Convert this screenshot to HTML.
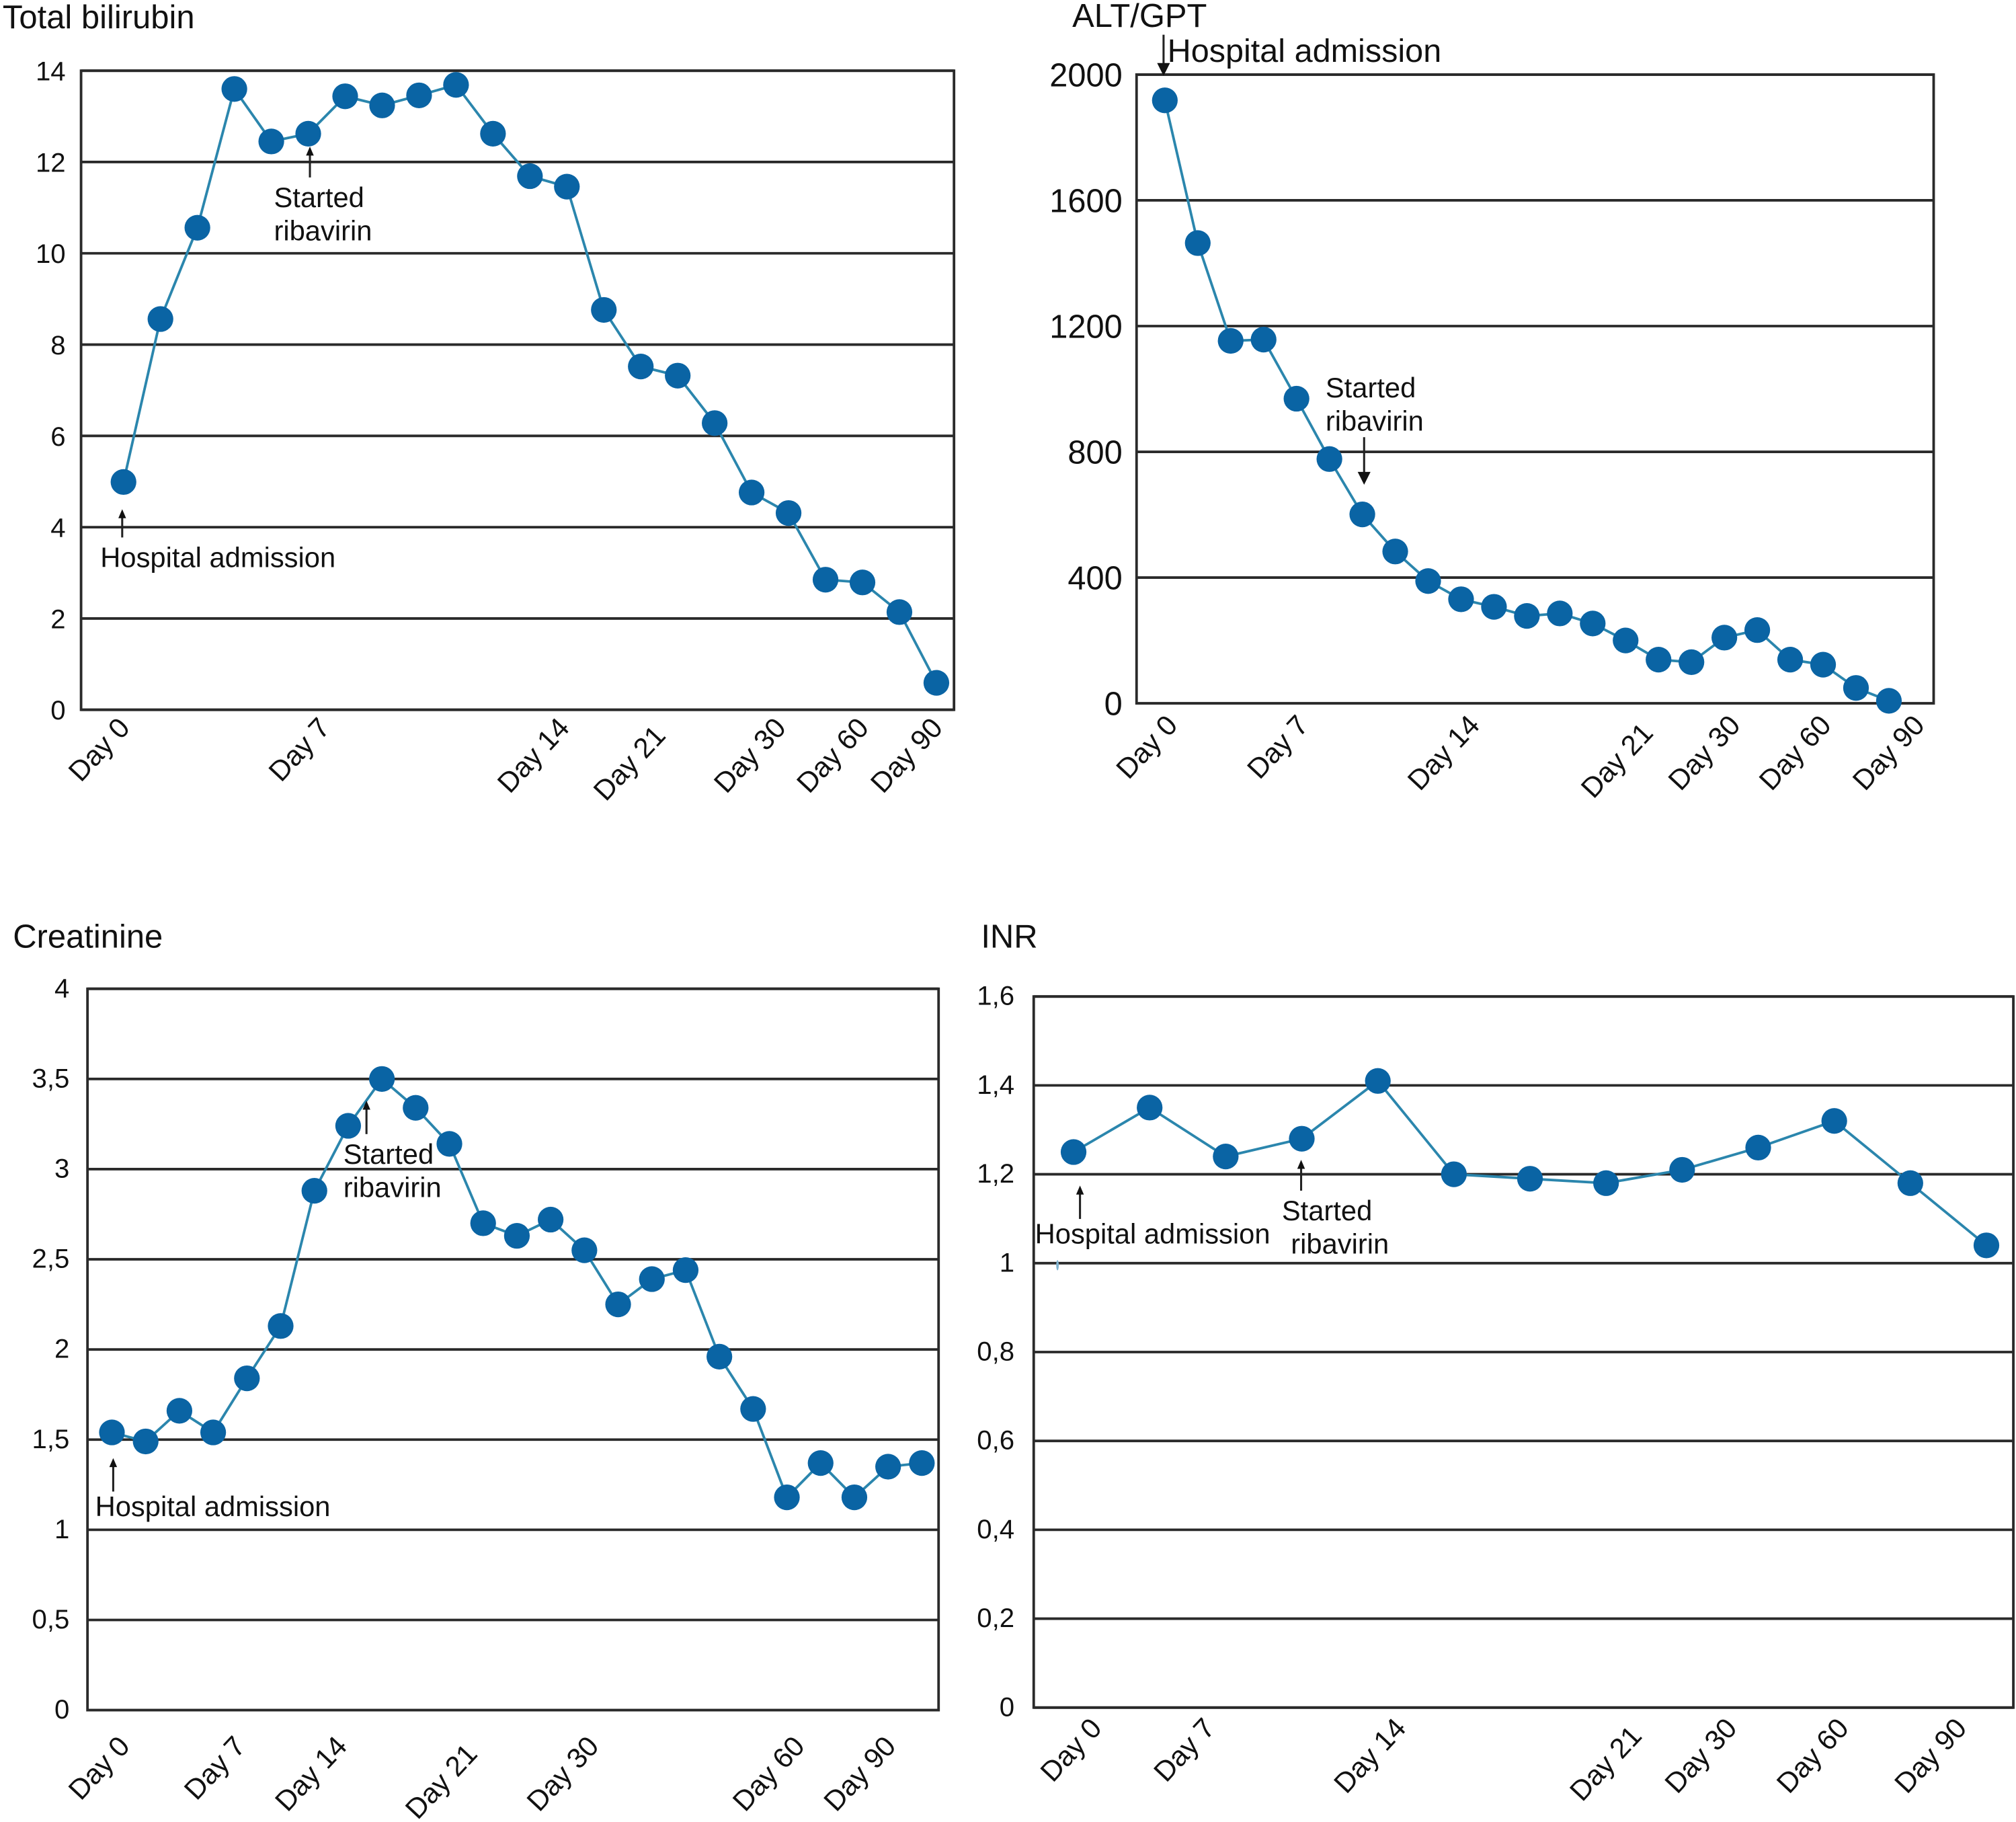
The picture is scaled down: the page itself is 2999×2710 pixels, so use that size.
<!DOCTYPE html>
<html lang="en">
<head>
<meta charset="utf-8">
<title>Laboratory trends: bilirubin, ALT/GPT, creatinine, INR</title>
<style>
html,body{margin:0;padding:0;background:#fff;}
svg{display:block;width:2999px;height:2710px;}
text{font-family:"Liberation Sans",sans-serif;fill:#111;}
.title{font-size:25.6px;}
.note{font-size:21.8px;}
.arrow{stroke:#222;stroke-width:1.6;fill:none;}
.head{fill:#111;stroke:none;}
</style>
</head>
<body>
<svg id="chart" viewBox="0 0 1568 1417" xmlns="http://www.w3.org/2000/svg">
  <rect x="0" y="0" width="1568" height="1417" fill="#fff"/>
  <g id="panels"></g>

  <text class="title" x="2" y="22">Total bilirubin</text>
  <text class="title" x="834" y="21">ALT/GPT</text>
  <text class="title" x="10" y="737">Creatinine</text>
  <text class="title" x="763" y="737">INR</text>

  <g>
    <path class="arrow" d="M95 418V402"/>
    <path class="head" d="M95 396l-3 7h6z"/>
    <text class="note" x="78" y="441">Hospital admission</text>
    <path class="arrow" d="M241 138V120"/>
    <path class="head" d="M241 114l-3 7h6z"/>
    <text class="note" x="213" y="161">Started</text>
    <text class="note" x="213" y="187">ribavirin</text>
  </g>

  <g>
    <path class="arrow" d="M905 27V50"/>
    <path class="head" d="M905 59l-5-10h10z"/>
    <text class="note" style="font-size:25.4px" x="908" y="48">Hospital admission</text>
    <text class="note" x="1031" y="309">Started</text>
    <text class="note" x="1031" y="335">ribavirin</text>
    <path class="arrow" d="M1061 340V368"/>
    <path class="head" d="M1061 377l-5-10h10z"/>
  </g>

  <g>
    <path class="arrow" d="M88 1160V1140"/>
    <path class="head" d="M88 1134l-3 7h6z"/>
    <text class="note" x="74" y="1179">Hospital admission</text>
    <path class="arrow" d="M285 882V862"/>
    <path class="head" d="M285 856l-3 7h6z"/>
    <text class="note" x="267" y="905">Started</text>
    <text class="note" x="267" y="931">ribavirin</text>
  </g>

  <g>
    <path class="arrow" d="M840 948V928"/>
    <path class="head" d="M840 922l-3 7h6z"/>
    <text class="note" x="805" y="967">Hospital admission</text>
    <path class="arrow" d="M1012 926V908"/>
    <path class="head" d="M1012 902l-3 7h6z"/>
    <text class="note" x="997" y="949">Started</text>
    <text class="note" x="1004" y="975">ribavirin</text>
    <ellipse cx="822.5" cy="984" rx="1" ry="4" fill="#7fb3d0"/>
  </g>
</svg>

<script>
// ---- Data ----
const bilirubinValues = [4.99,8.56,10.56,13.6,12.45,12.62,13.44,13.24,13.46,13.69,12.62,11.69,11.46,8.76,7.52,7.32,6.28,4.76,4.31,2.85,2.79,2.14,0.59];
const bilirubinYTicks = [0,2,4,6,8,10,12,14];
const bilirubinYLabels = ["0","2","4","6","8","10","12","14"];
const bilirubinDayLabels = ["Day 0","Day 7","Day 14","Day 21","Day 30","Day 60","Day 90"];
const bilirubinDayIndex = [0,5.42,11.9,14.5,17.76,20,22];

const altValues = [1918,1464,1153,1157,969,777,601,483,389,331,307,278,286,254,200,139,131,209,233,139,123,49,8];
const altYTicks = [0,400,800,1200,1600,2000];
const altYLabels = ["0","400","800","1200","1600","2000"];
const altDayLabels = ["Day 0","Day 7","Day 14","Day 21","Day 30","Day 60","Day 90"];
const altDayIndex = [0,3.98,9.18,14.45,17.1,19.86,22.7];

const creatinineValues = [1.54,1.49,1.66,1.54,1.84,2.13,2.88,3.24,3.5,3.34,3.14,2.7,2.63,2.72,2.55,2.25,2.39,2.44,1.96,1.67,1.18,1.37,1.18,1.35,1.37];
const creatinineYTicks = [0,0.5,1,1.5,2,2.5,3,3.5,4];
const creatinineYLabels = ["0","0,5","1","1,5","2","2,5","3","3,5","4"];
const creatinineDayLabels = ["Day 0","Day 7","Day 14","Day 21","Day 30","Day 60","Day 90"];
const creatinineDayIndex = [0,3.43,6.44,10.3,13.9,20,22.7];

const inrValues = [1.25,1.35,1.24,1.28,1.41,1.2,1.19,1.18,1.21,1.26,1.32,1.18,1.04];
const inrYTicks = [0,0.2,0.4,0.6,0.8,1,1.2,1.4,1.6];
const inrYLabels = ["0","0,2","0,4","0,6","0,8","1","1,2","1,4","1,6"];
const inrDayLabels = ["Day 0","Day 7","Day 14","Day 21","Day 30","Day 60","Day 90"];
const inrDayIndex = [0,1.49,4,7.1,8.35,9.82,11.37];

// ---- Layout (drawing frames, separate from the data) ----
const NS = "http://www.w3.org/2000/svg";
const panelsRoot = document.getElementById("panels");

function make(tag, parent) {
  const el = document.createElementNS(NS, tag);
  parent.appendChild(el);
  return el;
}

function drawPanel(p) {
  const yScale = v => p.bottom - (v / p.yMax) * (p.bottom - p.top);
  const xScale = i => p.firstX + i * p.stepX;

  const g = make("g", panelsRoot);
  
  

  p.yTicks.forEach((tick, i) => {
    const line = make("line", g);
    
    
    line.setAttribute("x1", p.left);
    line.setAttribute("x2", p.right);
    line.setAttribute("y1", yScale(tick));
    line.setAttribute("y2", yScale(tick));
    line.setAttribute("stroke", "#2a2a2a");
    line.setAttribute("stroke-width", "2");

    const label = make("text", g);
    
    
    label.setAttribute("x", p.tickRight);
    label.setAttribute("y", yScale(tick) + p.tickSize * 0.36 + p.tickShift);
    label.setAttribute("text-anchor", "end");
    label.setAttribute("font-size", p.tickSize);
    label.textContent = p.yLabels[i];
  });

  const frame = make("rect", g);
  
  
  frame.setAttribute("x", p.left);
  frame.setAttribute("y", p.top);
  frame.setAttribute("width", p.right - p.left);
  frame.setAttribute("height", p.bottom - p.top);
  frame.setAttribute("fill", "none");
  frame.setAttribute("stroke", "#2a2a2a");
  frame.setAttribute("stroke-width", "2");

  const series = make("polyline", g);
  
  
  series.setAttribute("points", p.values.map((v, i) => xScale(i) + "," + yScale(v)).join(" "));
  series.setAttribute("fill", "none");
  series.setAttribute("stroke", "#2b86ad");
  series.setAttribute("stroke-width", "2");

  p.values.forEach((v, i) => {
    const dot = make("circle", g);
    
    
    dot.setAttribute("cx", xScale(i));
    dot.setAttribute("cy", yScale(v));
    dot.setAttribute("r", "10");
    dot.setAttribute("fill", "#0a64a4");
  });

  p.dayLabels.forEach((name, i) => {
    const endX = xScale(p.dayIndex[i]) + p.dayOffsetX;
    const label = make("text", g);
    
    
    label.setAttribute("text-anchor", "end");
    label.setAttribute("font-size", p.daySize);
    label.setAttribute("transform", "translate(" + endX + "," + (p.dayY + (i === 3 ? p.day21Drop : 0)) + ") rotate(-47)");
    label.textContent = name;
  });
}

drawPanel({key:"bilirubin", values:bilirubinValues, yTicks:bilirubinYTicks, yLabels:bilirubinYLabels, dayLabels:bilirubinDayLabels, dayIndex:bilirubinDayIndex,
  yMax:14, left:63, right:742, top:55, bottom:552, firstX:96, stepX:28.74, tickRight:51, tickSize:21, tickShift:0, dayOffsetX:6, dayY:567, day21Drop:6, daySize:22});
drawPanel({key:"alt", values:altValues, yTicks:altYTicks, yLabels:altYLabels, dayLabels:altDayLabels, dayIndex:altDayIndex,
  yMax:2000, left:884, right:1504, top:58, bottom:547, firstX:906, stepX:25.6, tickRight:873, tickSize:25.5, tickShift:0, dayOffsetX:11, dayY:565, day21Drop:6, daySize:22});
drawPanel({key:"creatinine", values:creatinineValues, yTicks:creatinineYTicks, yLabels:creatinineYLabels, dayLabels:creatinineDayLabels, dayIndex:creatinineDayIndex,
  yMax:4, left:68, right:730, top:769, bottom:1330, firstX:87, stepX:26.25, tickRight:54, tickSize:21, tickShift:-1, dayOffsetX:15, dayY:1359, day21Drop:6, daySize:22});
drawPanel({key:"inr", values:inrValues, yTicks:inrYTicks, yLabels:inrYLabels, dayLabels:inrDayLabels, dayIndex:inrDayIndex,
  yMax:1.6, left:804, right:1566, top:775, bottom:1328, firstX:835, stepX:59.17, tickRight:789, tickSize:21, tickShift:-1, dayOffsetX:23, dayY:1345, day21Drop:6, daySize:22});
</script>
</body>
</html>
